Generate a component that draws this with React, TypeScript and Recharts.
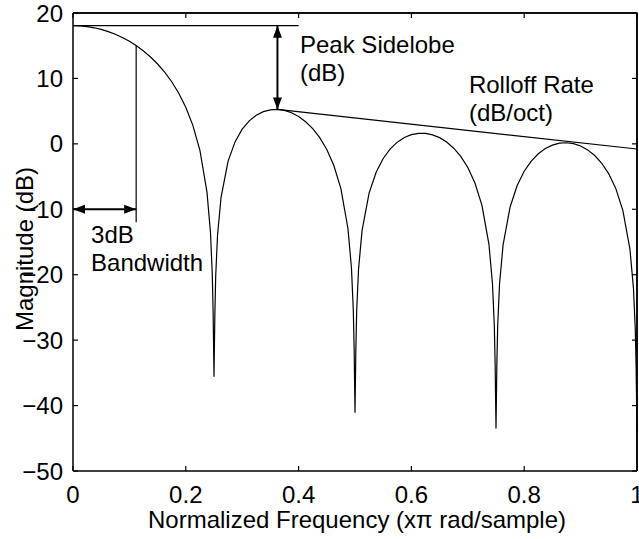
import { LineChart, Line, XAxis, YAxis, CartesianGrid, ReferenceLine, ReferenceDot } from "recharts";

// frequency response (normalized frequency, x pi rad/sample)
const freq = [
  0, 0.0125, 0.025, 0.0375, 0.05, 0.0625, 0.075, 0.0875, 0.1, 0.1125,
  0.125, 0.1375, 0.15, 0.1625, 0.175, 0.1875, 0.2, 0.2125, 0.225, 0.2375,
  0.24375, 0.247, 0.2485, 0.25, 0.2515, 0.253, 0.25625,
  0.2625, 0.275, 0.2875, 0.3, 0.3125, 0.325, 0.3375, 0.35, 0.3625, 0.375,
  0.3875, 0.4, 0.4125, 0.425, 0.4375, 0.45, 0.4625, 0.475, 0.4875,
  0.49375, 0.497, 0.4985, 0.5, 0.5015, 0.503, 0.50625,
  0.5125, 0.525, 0.5375, 0.55, 0.5625, 0.575, 0.5875, 0.6, 0.6125, 0.625,
  0.6375, 0.65, 0.6625, 0.675, 0.6875, 0.7, 0.7125, 0.725, 0.7375,
  0.74375, 0.747, 0.7485, 0.75, 0.7515, 0.753, 0.75625,
  0.7625, 0.775, 0.7875, 0.8, 0.8125, 0.825, 0.8375, 0.85, 0.8625, 0.875,
  0.8875, 0.9, 0.9125, 0.925, 0.9375, 0.95, 0.9625, 0.975, 0.9875,
  0.99375, 0.997, 0.9985, 1.0,
];

const magnitude = [
  18.06, 18.03, 17.92, 17.74, 17.49, 17.16, 16.76, 16.26, 15.68, 14.99,
  14.2, 13.27, 12.2, 10.95, 9.49, 7.73, 5.58, 2.83, -0.98, -7.35,
  -13.55, -20.03, -26.1, -35.6, -26.2, -20.23, -13.97,
  -8.17, -2.64, 0.34, 2.24, 3.52, 4.38, 4.92, 5.2, 5.26, 5.11,
  4.75, 4.18, 3.38, 2.32, 0.94, -0.87, -3.31, -6.84, -12.93,
  -19.01, -25.42, -31.46, -41.1, -31.51, -25.51, -19.18,
  -13.27, -7.52, -4.33, -2.24, -0.77, 0.26, 0.97, 1.41, 1.61, 1.6,
  1.38, 0.95, 0.28, -0.66, -1.92, -3.61, -5.94, -9.36, -15.35,
  -21.38, -27.77, -33.8, -43.5, -33.82, -27.8, -21.45,
  -15.49, -9.65, -6.37, -4.18, -2.63, -1.51, -0.72, -0.19, 0.1, 0.17,
  0.03, -0.33, -0.92, -1.78, -2.97, -4.59, -6.84, -10.19, -16.11,
  -22.11, -28.47, -34.49, -44.1,
];

const xTicks = [0, 0.2, 0.4, 0.6, 0.8, 1];
const yTicks = [-50, -40, -30, -20, -10, 0, 10, 20];
const xDomain = [0, 1];
const yDomain = [-50, 20];

// annotation anchors
const mainLobePeak = 18.06;
const peakGuideEnd = 0.4;
const sidelobePeak = { f: 0.3625, mag: 5.26 };
const rolloffEnd = { f: 1, mag: -0.79 };
const bandwidthEdge = { f: 0.112, top: 15.0, bottom: -12 };
const bandwidthLevel = -10;

const notes = [
  { f: 0.4025, mag: 13.9, lines: ["Peak Sidelobe", "(dB)"] },
  { f: 0.702, mag: 7.77, lines: ["Rolloff Rate", "(dB/oct)"] },
  { f: 0.032, mag: -15.15, lines: ["3dB", "Bandwidth"] },
];

const data = freq.map((f, i) => ({ f, mag: magnitude[i] }));

const W = 639;
const H = 539;
const MARGIN = { top: 13, right: 2, bottom: 11, left: 0 };
const Y_AXIS_W = 73;
const PLOT_W = W - MARGIN.right - MARGIN.left - Y_AXIS_W;

const FONT = "'Liberation Sans', Arial, Helvetica, sans-serif";
const fmtY = (v: number) => (v < 0 ? `\u2212${-v}` : `${v}`);

function DoubleArrow(props: any) {
  const { x1, y1, x2, y2 } = props;
  const len = Math.hypot(x2 - x1, y2 - y1) || 1;
  const ux = (x2 - x1) / len;
  const uy = (y2 - y1) / len;
  const head = (tx: number, ty: number, dx: number, dy: number) => {
    const bx = tx - dx * 12;
    const by = ty - dy * 12;
    const px = -dy * 4.5;
    const py = dx * 4.5;
    return `${tx},${ty} ${bx + px},${by + py} ${bx - px},${by - py}`;
  };
  return (
    <g>
      <line x1={x1} y1={y1} x2={x2} y2={y2} stroke="#000" strokeWidth={2} />
      <polygon points={head(x2, y2, ux, uy)} fill="#000" />
      <polygon points={head(x1, y1, -ux, -uy)} fill="#000" />
    </g>
  );
}

// right edge of the box, plus the top edge hung off its upper end
const BoxEdges = (p: any) => {
  const x = Math.max(p.x1, p.x2);
  const top = Math.min(p.y1, p.y2);
  const bottom = Math.max(p.y1, p.y2);
  return (
    <g>
      <line x1={x} y1={top} x2={x} y2={bottom} stroke="#000" strokeWidth={1.5} />
      <rect x={x - PLOT_W} y={top - 0.75} width={PLOT_W + 0.75} height={1.5} fill="#000" />
    </g>
  );
};

// grid lines reduced to short inward tick marks on the top and right edges
const TopTickLine = (p: any) => {
  const y = Math.min(p.y1, p.y2);
  return <line x1={p.x1} x2={p.x1} y1={y} y2={y + 5} stroke="#000" strokeWidth={1.2} />;
};
const RightTickLine = (p: any) => {
  const x = Math.max(p.x1, p.x2);
  return <line x1={x - 5} x2={x} y1={p.y1} y2={p.y1} stroke="#000" strokeWidth={1.2} />;
};

const noteShape = (lines: string[]) => (p: any) => (
  <text x={p.cx} y={p.cy} fontSize={24} fontFamily={FONT} fill="#000">
    {lines.map((l, i) => (
      <tspan key={i} x={p.cx} dy={i === 0 ? 0 : 28}>
        {l}
      </tspan>
    ))}
  </text>
);

export default function App() {
  const tickStyle = { fontSize: 24, fill: "#000", fontFamily: FONT };
  const axisLine = { stroke: "#000", strokeWidth: 1.5 };
  const tickLine = { stroke: "#000", strokeWidth: 1.2 };

  return (
    <div style={{ position: "absolute", left: 0, top: 0, width: W, height: H, background: "#fff" }}>
      <LineChart width={W} height={H} data={data} margin={MARGIN}>
        <CartesianGrid
          stroke="#000"
          strokeWidth={1.5}
          fill="none"
          horizontalCoordinatesGenerator={({ offset }: any) => [offset.top]}
          verticalCoordinatesGenerator={({ offset }: any) => [offset.left + offset.width]}
        />
        <CartesianGrid fill="none" horizontal={RightTickLine} vertical={TopTickLine} />
        <XAxis
          dataKey="f"
          type="number"
          domain={xDomain}
          ticks={xTicks}
          interval={0}
          height={57}
          tickSize={-5}
          tickMargin={20}
          tick={tickStyle}
          axisLine={axisLine}
          tickLine={tickLine}
          label={{
            value: "Normalized Frequency (x\u03c0 rad/sample)",
            content: (p: any) => {
              const vb = p.viewBox;
              return (
                <text x={vb.x + vb.width / 2 + 2} y={vb.y + vb.height} textAnchor="middle" fontSize={24} fontFamily={FONT} fill="#000">
                  Normalized Frequency (x{"\u03c0"} rad/sample)
                </text>
              );
            },
          }}
        />
        <YAxis
          type="number"
          domain={yDomain}
          ticks={yTicks}
          interval={0}
          width={Y_AXIS_W}
          tickSize={-5}
          tickMargin={15}
          tick={tickStyle}
          tickFormatter={fmtY}
          axisLine={axisLine}
          tickLine={tickLine}
          label={{
            value: "Magnitude (dB)",
            content: (p: any) => {
              const vb = p.viewBox;
              const cx = vb.x + 33;
              const cy = vb.y + vb.height / 2 + 7;
              return (
                <text x={cx} y={cy} transform={`rotate(-90, ${cx}, ${cy})`} textAnchor="middle" fontSize={24} fontFamily={FONT} fill="#000">
                  Magnitude (dB)
                </text>
              );
            },
          }}
        />
        <ReferenceLine x={xDomain[1]} ifOverflow="visible" shape={BoxEdges} />
        <Line
          dataKey="mag"
          type="linear"
          dot={false}
          activeDot={false}
          stroke="#000"
          strokeWidth={1.2}
          isAnimationActive={false}
        />
        <ReferenceLine
          segment={[{ x: 0, y: mainLobePeak }, { x: peakGuideEnd, y: mainLobePeak }]}
          stroke="#000"
          strokeWidth={1.2}
        />
        <ReferenceLine
          segment={[{ x: sidelobePeak.f, y: mainLobePeak }, { x: sidelobePeak.f, y: sidelobePeak.mag }]}
          shape={DoubleArrow}
        />
        <ReferenceLine
          segment={[{ x: sidelobePeak.f, y: sidelobePeak.mag }, { x: rolloffEnd.f, y: rolloffEnd.mag }]}
          stroke="#000"
          strokeWidth={1.2}
        />
        <ReferenceLine
          segment={[{ x: bandwidthEdge.f, y: bandwidthEdge.top }, { x: bandwidthEdge.f, y: bandwidthEdge.bottom }]}
          stroke="#000"
          strokeWidth={1.2}
        />
        <ReferenceLine
          segment={[{ x: 0, y: bandwidthLevel }, { x: bandwidthEdge.f, y: bandwidthLevel }]}
          shape={DoubleArrow}
        />
        {notes.map((n, i) => (
          <ReferenceDot key={i} x={n.f} y={n.mag} r={0} shape={noteShape(n.lines)} />
        ))}
      </LineChart>
    </div>
  );
}
